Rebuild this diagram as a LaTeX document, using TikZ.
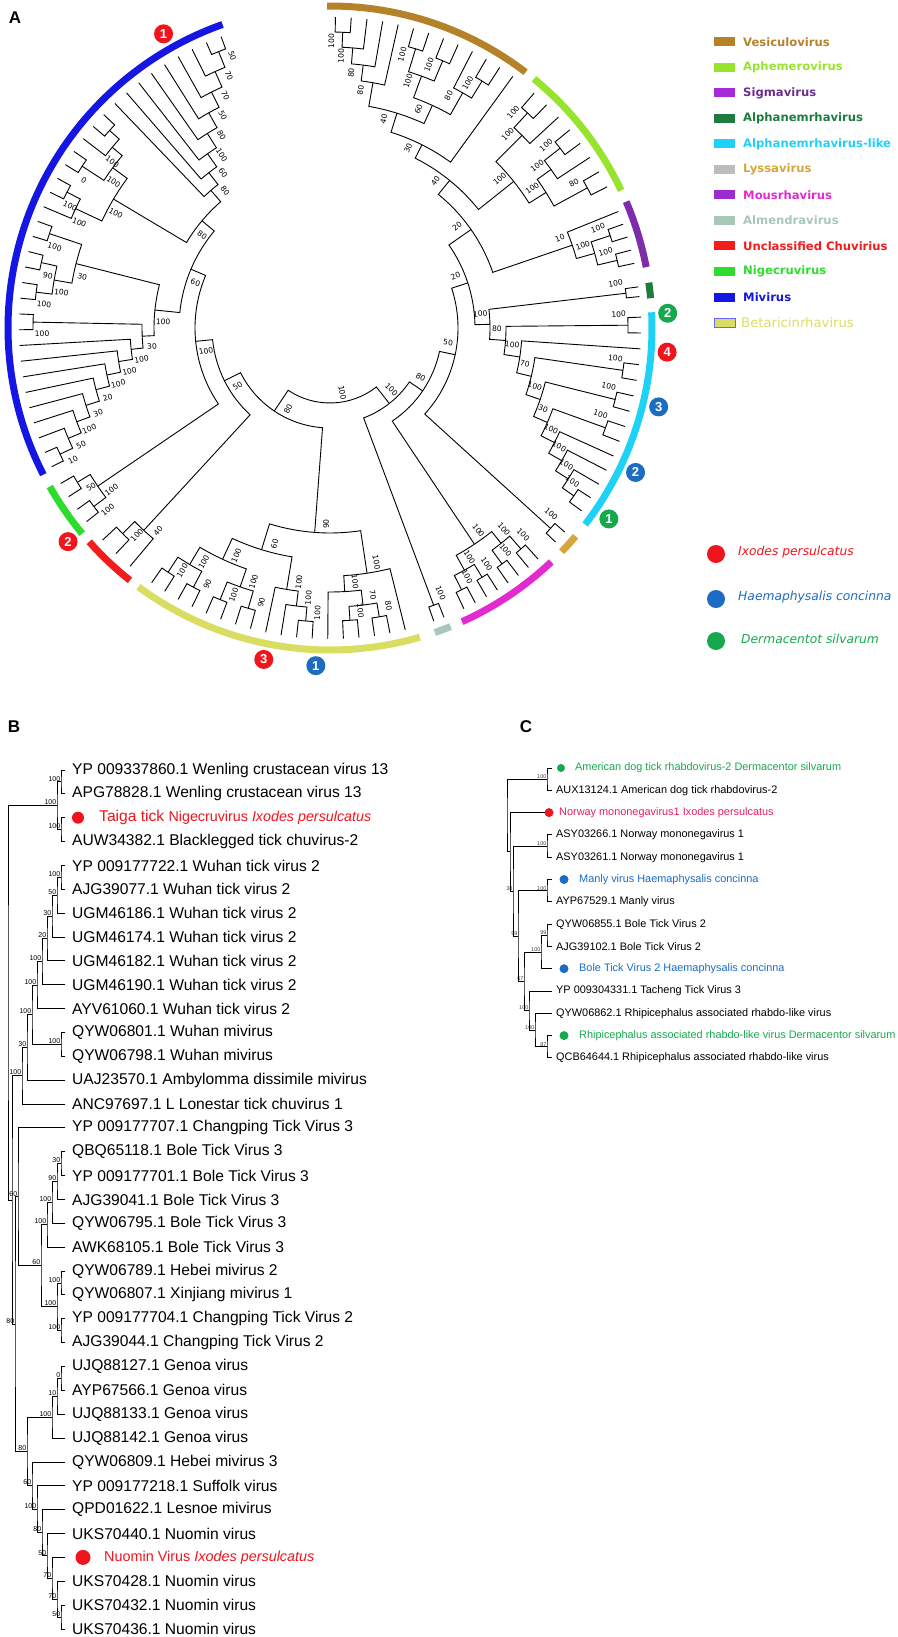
\documentclass[tikz,border=0pt]{standalone}
\usepackage{fontspec}
\setmainfont{Liberation Sans}
\newfontfamily\dejavu{DejaVu Sans}
\definecolor{vesic}{HTML}{B5822A}
\definecolor{aphem}{HTML}{98E32E}
\definecolor{sigarc}{HTML}{7D2DAA}
\definecolor{sigbox}{HTML}{A52BD8}
\definecolor{sigtxt}{HTML}{6B2D8F}
\definecolor{alphan}{HTML}{207B3E}
\definecolor{alphlike}{HTML}{1ED2F7}
\definecolor{lysarc}{HTML}{D6A63C}
\definecolor{lysbox}{HTML}{BDBDBD}
\definecolor{mousarc}{HTML}{E22AD0}
\definecolor{mousbox}{HTML}{9D2BD2}
\definecolor{almend}{HTML}{A9C7B9}
\definecolor{unclas}{HTML}{F21C1C}
\definecolor{nigec}{HTML}{2EDC2E}
\definecolor{mivir}{HTML}{1515E4}
\definecolor{betar}{HTML}{D9DE63}
\definecolor{ixod}{HTML}{F0141C}
\definecolor{haem}{HTML}{1C6CC2}
\definecolor{derm}{HTML}{16A84D}
\definecolor{norway}{HTML}{E61F63}

% circular tree: tips and joins stored as angle/radius
\def\tipr{311}
\def\labside{1}
\newcommand\tipset[4]{%
  \foreach \i in {1,...,#2}{%
    \pgfmathsetmacro\ta{#3+(\i-1)*((#4)-(#3))/(#2-1)}%
    \expandafter\xdef\csname ta#1\i\endcsname{\ta}%
    \expandafter\xdef\csname tr#1\i\endcsname{\tipr}%
  }}
\newcommand\joinA[5]{%
  \edef\aA{\csname ta#2\endcsname}\edef\rA{\csname tr#2\endcsname}%
  \edef\aB{\csname ta#3\endcsname}\edef\rB{\csname tr#3\endcsname}%
  \draw[branch] (\aA:\rA) -- (\aA:#4) arc[start angle=\aA, end angle=\aB, radius=#4] -- (\aB:\rB);%
  \pgfmathsetmacro\aN{(\aA+\aB)/2}%
  \expandafter\xdef\csname ta#1\endcsname{\aN}%
  \expandafter\xdef\csname tr#1\endcsname{#4}%
  \if\relax\detokenize{#5}\relax\else
    \pgfmathsetmacro\aL{\aN+\labside*650/#4}%
    \pgfmathsetmacro\rL{#4-9}%
    \pgfmathsetmacro\rot{(\aL < -90) ? (\aL+180) : (\aL)}%
    \node[bootA, rotate=\rot] (bs-#1) at (\aL:\rL) {#5};%
  \fi}
\newcommand\cladeband[3]{\draw[band, #1] (#2:322) arc[start angle=#2, end angle=#3, radius=322];}

% rectangular trees
\newcommand\leafR[3]{%
  \expandafter\xdef\csname ty#1\endcsname{#3}%
  \coordinate (#1) at (#2,#3);}
\newcommand\joinR[5]{%
  \edef\yA{\csname ty#2\endcsname}\edef\yB{\csname ty#3\endcsname}%
  \pgfmathsetmacro\yN{(\yA+\yB)/2}%
  \leafR{#1}{#4}{\yN}%
  \draw[branch] (#2) -| (#1) |- (#3);%
  \if\relax\detokenize{#5}\relax\else
    \node[boot] (bs-#1) at (#1) {#5};%
  \fi}

\begin{document}
\begin{tikzpicture}[x=1pt, y=-1pt,
  branch/.style={line width=0.9},
  band/.style={line width=7},
  bootA/.style={font=\dejavu\fontsize{7.6}{8}\selectfont, inner sep=0},
  bootB/.style={font=\fontsize{7}{8}\selectfont, inner sep=0.6, anchor=south east},
  bootC/.style={font=\fontsize{5.5}{6}\selectfont, inner sep=0.4, anchor=south east, text=black!75},
  boot/.style=bootB,
  tiptext/.style={anchor=west, inner sep=0, font=\fontsize{15.6}{18}\selectfont},
  ctext/.style={anchor=west, inner sep=0, font=\fontsize{10.9}{13}\selectfont},
  panel/.style={font=\bfseries\fontsize{17}{18}\selectfont, inner sep=0},
  mk/.style={circle, fill=#1, text=white, inner sep=0, minimum size=19, font=\bfseries\fontsize{13}{13}\selectfont},
  hdot/.style={circle, fill=#1, inner sep=0},
  legtext/.style={anchor=west, inner sep=0, font=\dejavu\bfseries\fontsize{11.6}{13}\selectfont},
  legbox/.style={rectangle, inner sep=0, minimum width=21, minimum height=9},
  hosttext/.style={anchor=west, inner sep=0, font=\dejavu\itshape\fontsize{12.3}{14}\selectfont}
]
\useasboundingbox (0,0) rectangle (897,1637);

% ---------- A ----------
\node[panel] (lblA) at (15,18) {A};
\begin{scope}[shift={(330,328)}, yscale=-1]
\cladeband{vesic}{90.5}{52.6}
\cladeband{aphem}{50.7}{25.3}
\cladeband{sigarc}{23.1}{10.9}
\cladeband{alphan}{8.1}{5.3}
\cladeband{alphlike}{2.8}{-37.6}
\cladeband{lysarc}{-40.3}{-44}
\cladeband{mousarc}{-46.6}{-65.8}
\cladeband{almend}{-68}{-71}
\cladeband{betar}{-73.8}{-126.5}
\cladeband{unclas}{-128.4}{-138.4}
\cladeband{nigec}{-140.3}{-150.5}
\cladeband{mivir}{-152.9}{-250.5}

\tipset{v}{13}{89}{54}
\tipset{p}{8}{49}{27}
\tipset{s}{5}{22}{12}
\tipset{n}{2}{7.6}{5.8}
\tipset{c}{14}{2}{-36}
\tipset{l}{2}{-41}{-43.5}
\tipset{m}{8}{-48}{-64.5}
\tipset{a}{2}{-68.5}{-70.5}
\tipset{b}{18}{-76}{-125}
\tipset{r}{3}{-130}{-137}
\tipset{g}{4}{-141.5}{-150}
\tipset{u}{34}{-153.5}{-249.5}

% Vesiculovirus, Aphemerovirus, Sigmavirus
\joinA{va}{v1}{v2}{296}{100}
\joinA{vb}{va}{v3}{281}{100}
\joinA{vc}{vb}{v4}{265}{80}
\joinA{vd}{vc}{v5}{249}{80}
\joinA{ve}{v6}{v7}{292}{100}
\joinA{vf}{v8}{v9}{290}{100}
\joinA{vg}{ve}{vf}{268}{100}
\joinA{vh}{v11}{v12}{290}{100}
\joinA{vi}{v10}{vh}{270}{80}
\joinA{vj}{vg}{vi}{245}{60}
\joinA{vk}{vd}{vj}{225}{40}
\joinA{vl}{vk}{v13}{205}{30}
\joinA{pa}{p1}{p2}{292}{100}
\joinA{pb}{pa}{p3}{272}{100}
\joinA{pc}{p4}{p5}{292}{100}
\joinA{pd}{pc}{p6}{272}{100}
\joinA{pe}{p7}{p8}{293}{80}
\joinA{pf}{pd}{pe}{255}{100}
\joinA{pg}{pb}{pf}{235}{100}
\joinA{vp}{vl}{pg}{190}{40}
\joinA{sa}{s2}{s3}{295}{100}
\joinA{sb}{s4}{s5}{295}{100}
\joinA{sc}{sa}{sb}{275}{100}
\joinA{sd}{s1}{sc}{256}{10}
\joinA{vs}{vp}{sd}{172}{20}
% Alphanemrhavirus and -like
\joinA{na}{n1}{n2}{298}{100}
\joinA{ca}{c1}{c2}{298}{100}
\joinA{cb}{c4}{c5}{296}{100}
\joinA{cc}{c6}{c7}{294}{100}
\joinA{cd}{c8}{c9}{293}{100}
\joinA{ce}{c13}{c14}{296}{100}
\joinA{cf}{c12}{ce}{282}{100}
\joinA{cg}{c11}{cf}{267}{100}
\joinA{ch}{c10}{cg}{252}{100}
\joinA{ci}{cd}{ch}{237}{30}
\joinA{cj}{cc}{ci}{222}{100}
\joinA{ck}{cb}{cj}{207}{70}
\joinA{cl}{c3}{ck}{192}{100}
\joinA{cm}{ca}{cl}{176}{80}
\joinA{cn}{na}{cm}{160}{100}
\joinA{rt}{vs}{cn}{145}{20}
% Lyssavirus, Mousrhavirus, Almendravirus
\joinA{la}{l1}{l2}{298}{100}
\joinA{ma}{m1}{m2}{292}{100}
\joinA{mb}{m3}{m4}{292}{100}
\joinA{mc}{ma}{mb}{275}{100}
\joinA{md}{m5}{m6}{292}{100}
\joinA{me}{m7}{m8}{293}{100}
\joinA{mf}{md}{me}{277}{100}
\joinA{mg}{mc}{mf}{260}{100}
\joinA{aa}{a1}{a2}{296}{100}
\joinA{xa}{rt}{la}{128}{50}
\joinA{xb}{xa}{mg}{112}{80}
\joinA{xc}{xb}{aa}{96}{100}
% Betaricinrhavirus
\joinA{ba}{b2}{b3}{293}{80}
\joinA{bb}{b4}{b5}{293}{100}
\joinA{bc}{ba}{bb}{279}{70}
\joinA{bd}{bc}{b6}{264}{100}
\joinA{be}{b1}{bd}{248}{100}
\joinA{bf}{b7}{b8}{294}{100}
\joinA{bg}{bf}{b9}{280}{100}
\joinA{bh}{bg}{b10}{265}{100}
\joinA{bi}{b11}{b12}{292}{90}
\joinA{bj}{b13}{b14}{293}{100}
\joinA{bk}{bi}{bj}{274}{100}
\joinA{bl}{b15}{b16}{293}{90}
\joinA{bm}{b17}{b18}{293}{100}
\joinA{bn}{bl}{bm}{275}{100}
\joinA{bo}{bk}{bn}{255}{100}
\joinA{bp}{bh}{bo}{232}{60}
\joinA{bq}{be}{bp}{205}{90}
% Unclassified, Nigecruvirus
\joinA{ra}{r2}{r3}{292}{100}
\joinA{rb}{r1}{ra}{275}{40}
\joinA{ga}{g1}{g2}{296}{100}
\joinA{gb}{g3}{g4}{296}{50}
\joinA{gc}{ga}{gb}{281}{100}
% Mivirus
\joinA{wa}{u1}{u2}{298}{10}
\joinA{wb}{wa}{u3}{284}{50}
\joinA{wc}{wb}{u4}{270}{100}
\joinA{wd}{wc}{u5}{256}{30}
\joinA{we}{wd}{u6}{242}{20}
\joinA{wf}{we}{u7}{228}{100}
\joinA{wg}{wf}{u8}{214}{100}
\joinA{wh}{wg}{u9}{200}{100}
\joinA{wi}{u10}{u11}{297}{100}
\joinA{wj}{wh}{wi}{188}{30}
\joinA{wk}{u12}{u13}{296}{100}
\joinA{wl}{u14}{u15}{296}{90}
\joinA{wm}{wk}{wl}{280}{100}
\joinA{wn}{u16}{u17}{296}{100}
\joinA{wo}{wm}{wn}{262}{30}
\joinA{wp}{wj}{wo}{176}{100}
\joinA{ui}{u24}{u25}{296}{}
\joinA{uj}{u23}{ui}{283}{100}
\joinA{uk}{u21}{u22}{296}{0}
\joinA{ul}{uk}{uj}{270}{100}
\joinA{um}{u19}{u20}{296}{100}
\joinA{un}{u18}{um}{281}{100}
\joinA{uo}{ul}{un}{252}{100}
\def\labside{-1}
\joinA{ua}{u33}{u34}{298}{50}
\joinA{ub}{u32}{ua}{281}{70}
\joinA{uc}{u31}{ub}{264}{70}
\joinA{ud}{u30}{uc}{247}{50}
\joinA{ue}{u29}{ud}{230}{80}
\joinA{uf}{u28}{ue}{213}{100}
\joinA{ug}{u27}{uf}{197}{60}
\joinA{uh}{u26}{ug}{182}{80}
\def\labside{1}
\joinA{up}{uo}{uh}{167}{80}
\joinA{wq}{wp}{up}{151}{60}
% backbone
\joinA{gu}{gc}{wq}{135}{100}
\joinA{rg}{rb}{gu}{118}{50}
\joinA{lf}{rg}{bq}{100}{80}
\joinA{root}{lf}{xc}{75}{100}

% tick markers
\node[mk=ixod] (mkI1) at (-240.5:338) {1};
\node[mk=ixod] (mkI2) at (-140.8:338) {2};
\node[mk=ixod] (mkI3) at (-101.3:338) {3};
\node[mk=ixod] (mkI4) at (-4.1:338) {4};
\node[mk=haem] (mkH1) at (-92.4:338) {1};
\node[mk=haem] (mkH2) at (-25.3:338) {2};
\node[mk=haem] (mkH3) at (-13.5:338) {3};
\node[mk=derm] (mkD1) at (-34.4:338) {1};
\node[mk=derm] (mkD2) at (2.5:338) {2};
\end{scope}

% legend
\foreach \i/\bx/\tx/\nm in {1/vesic/vesic/Vesiculovirus, 2/aphem/aphem/Aphemerovirus,
    3/sigbox/sigtxt/Sigmavirus, 4/alphan/alphan/Alphanemrhavirus,
    5/alphlike/alphlike/Alphanemrhavirus-like, 6/lysbox/lysarc/Lyssavirus,
    7/mousbox/mousarc/Mousrhavirus, 8/almend/almend/Almendravirus,
    9/unclas/unclas/Unclassified Chuvirius, 10/nigec/nigec/Nigecruvirus,
    11/mivir/mivir/Mivirus}{
  \pgfmathsetmacro\ly{42+(\i-1)*25.5}
  \node[legbox, fill=\bx] (lgb\i) at (724.5,\ly) {};
  \node[legtext, text=\tx] (lgt\i) at (743,\ly) {\nm};
}
\node[legbox, fill=betar, draw=blue!60, line width=0.6] (lgb12) at (724.5,322.5) {};
\node[anchor=west, inner sep=0, text=betar, font=\dejavu\fontsize{13.2}{15}\selectfont] (lgt12) at (741,322.5) {Betaricinrhavirus};
\node[hdot=ixod, minimum size=18] (hs1) at (716,554) {};
\node[hosttext, text=ixod] (ht1) at (738,552) {Ixodes persulcatus};
\node[hdot=haem, minimum size=18] (hs2) at (716,599) {};
\node[hosttext, text=haem] (ht2) at (738,597) {Haemaphysalis concinna};
\node[hdot=derm, minimum size=18] (hs3) at (716,641) {};
\node[hosttext, text=derm] (ht3) at (741,639) {Dermacentot silvarum};

% ---------- B ----------
\node[panel] (lblB) at (14,727) {B};
\foreach \i in {1,...,37}{
  \pgfmathsetmacro\yy{770+(\i-1)*23.86}
  \leafR{B\i}{65}{\yy}
}
\foreach \i/\txt in {1/YP 009337860.1 Wenling crustacean virus 13,
    2/APG78828.1 Wenling crustacean virus 13, 4/AUW34382.1 Blacklegged tick chuvirus-2,
    5/YP 009177722.1 Wuhan tick virus 2, 6/AJG39077.1 Wuhan tick virus 2,
    7/UGM46186.1 Wuhan tick virus 2, 8/UGM46174.1 Wuhan tick virus 2,
    9/UGM46182.1 Wuhan tick virus 2, 10/UGM46190.1 Wuhan tick virus 2,
    11/AYV61060.1 Wuhan tick virus 2, 12/QYW06801.1 Wuhan mivirus,
    13/QYW06798.1 Wuhan mivirus, 14/UAJ23570.1 Ambylomma dissimile mivirus,
    15/ANC97697.1 L Lonestar tick chuvirus 1, 16/YP 009177707.1 Changping Tick Virus 3,
    17/QBQ65118.1 Bole Tick Virus 3, 18/YP 009177701.1 Bole Tick Virus 3,
    19/AJG39041.1 Bole Tick Virus 3, 20/QYW06795.1 Bole Tick Virus 3,
    21/AWK68105.1 Bole Tick Virus 3, 22/QYW06789.1 Hebei mivirus 2,
    23/QYW06807.1 Xinjiang mivirus 1, 24/YP 009177704.1 Changping Tick Virus 2,
    25/AJG39044.1 Changping Tick Virus 2, 26/UJQ88127.1 Genoa virus,
    27/AYP67566.1 Genoa virus, 28/UJQ88133.1 Genoa virus, 29/UJQ88142.1 Genoa virus,
    30/QYW06809.1 Hebei mivirus 3, 31/YP 009177218.1 Suffolk virus,
    32/QPD01622.1 Lesnoe mivirus, 33/UKS70440.1 Nuomin virus,
    35/UKS70428.1 Nuomin virus, 36/UKS70432.1 Nuomin virus, 37/UKS70436.1 Nuomin virus}{
  \pgfmathsetmacro\yy{770+(\i-1)*23.86}
  \node[tiptext] (lbB\i) at (72,\yy) {\txt};
}
\node[hdot=ixod, minimum size=12] (dB3) at (78,817.7) {};
\node[tiptext, text=ixod] (lbB3) at (99,817.7) {Taiga tick {\fontsize{14.3}{16}\selectfont Nigecruvirus \itshape Ixodes persulcatus}};
\node[hdot=ixod, minimum size=15] (dB34) at (83,1557.4) {};
\node[tiptext, text=ixod, font=\fontsize{14.4}{16}\selectfont] (lbB34) at (104,1557.4) {Nuomin Virus \textit{Ixodes persulcatus}};

\tikzset{boot/.style=bootB}
\joinR{Ba}{B1}{B2}{61}{100}
\joinR{Bb}{B3}{B4}{61}{100}
\joinR{Bc}{Ba}{Bb}{57}{100}
\joinR{Bd}{B5}{B6}{61}{100}
\joinR{Be}{Bd}{B7}{57}{50}
\joinR{Bf}{Be}{B8}{52}{30}
\joinR{Bg}{Bf}{B9}{47}{20}
\joinR{Bh}{Bg}{B10}{42}{100}
\joinR{Bi}{Bh}{B11}{37}{100}
\joinR{Bj}{B12}{B13}{61}{100}
\joinR{Bk}{Bi}{Bj}{32}{100}
\joinR{Bl}{Bk}{B14}{27}{30}
\joinR{Bm}{Bl}{B15}{22}{100}
\joinR{Bn}{B17}{B18}{61}{30}
\joinR{Bo}{Bn}{B19}{57}{90}
\joinR{Bp}{Bo}{B20}{52}{100}
\joinR{Bq}{Bp}{B21}{47}{100}
\joinR{Br}{B22}{B23}{61}{100}
\joinR{Bs}{B24}{B25}{61}{100}
\joinR{Bt}{Br}{Bs}{57}{100}
\joinR{Bu}{Bq}{Bt}{41}{60}
\joinR{Bv}{B16}{Bu}{18}{60}
\joinR{Bw}{B26}{B27}{61}{0}
\joinR{Bx}{Bw}{B28}{57}{10}
\joinR{By}{Bx}{B29}{52}{100}
\joinR{Bz}{B36}{B37}{61}{50}
\joinR{BA}{B35}{Bz}{57}{70}
\joinR{BB}{B34}{BA}{52}{70}
\joinR{BC}{B33}{BB}{47}{50}
\joinR{BD}{B32}{BC}{42}{80}
\joinR{BE}{B31}{BD}{37}{100}
\joinR{BF}{B30}{BE}{32}{60}
\joinR{BG}{By}{BF}{27}{80}
\joinR{BH}{Bv}{BG}{15}{80}
\joinR{BI}{Bm}{BH}{12}{}
\joinR{BJ}{Bc}{BI}{8}{}

% ---------- C ----------
\node[panel] (lblC) at (526,727) {C};
\foreach \i in {1,...,14}{
  \pgfmathsetmacro\yy{768+(\i-1)*22.3}
  \leafR{C\i}{552}{\yy}
}
\leafR{C3}{545}{812.6}
\foreach \i/\txt in {2/AUX13124.1 American dog tick rhabdovirus-2,
    4/ASY03266.1 Norway mononegavirus 1, 5/ASY03261.1 Norway mononegavirus 1,
    7/AYP67529.1 Manly virus, 8/QYW06855.1 Bole Tick Virus 2,
    9/AJG39102.1 Bole Tick Virus 2, 11/YP 009304331.1 Tacheng Tick Virus 3,
    12/QYW06862.1 Rhipicephalus associated rhabdo-like virus,
    14/QCB64644.1 Rhipicephalus associated rhabdo-like virus}{
  \pgfmathsetmacro\yy{768+(\i-1)*22.3}
  \node[ctext] (lbC\i) at (556,\yy) {\txt};
}
\node[hdot=derm, minimum size=8] (dC1) at (561,768) {};
\node[ctext, text=derm] (lbC1) at (575,768) {American dog tick rhabdovirus-2 Dermacentor silvarum};
\node[hdot=ixod, minimum size=9] (dC3) at (549,812.6) {};
\node[ctext, text=norway] (lbC3) at (559,812.6) {Norway mononegavirus1 Ixodes persulcatus};
\node[hdot=haem, minimum size=9] (dC6) at (564,879.5) {};
\node[ctext, text=haem] (lbC6) at (579,879.5) {Manly virus Haemaphysalis concinna};
\node[hdot=haem, minimum size=9] (dC10) at (564,968.7) {};
\node[ctext, text=haem] (lbC10) at (579,968.7) {Bole Tick Virus 2 Haemaphysalis concinna};
\node[hdot=derm, minimum size=9] (dC13) at (564,1035.6) {};
\node[ctext, text=derm] (lbC13) at (579,1035.6) {Rhipicephalus associated rhabdo-like virus Dermacentor silvarum};

\tikzset{boot/.style=bootC}
\joinR{Ca}{C1}{C2}{547}{100}
\joinR{Cb}{C4}{C5}{547}{100}
\joinR{Cc}{C6}{C7}{547}{100}
\joinR{Cd}{C8}{C9}{547}{99}
\joinR{Ce}{Cd}{C10}{541}{100}
\joinR{Cf}{C13}{C14}{547}{87}
\joinR{Cg}{C12}{Cf}{535}{100}
\joinR{Ch}{C11}{Cg}{529}{100}
\joinR{Ci}{Ce}{Ch}{524}{67}
\joinR{Cj}{Cc}{Ci}{518}{99}
\joinR{Ck}{Cb}{Cj}{513}{38}
\joinR{Cl}{C3}{Ck}{510}{}
\joinR{Cm}{Ca}{Cl}{507}{}
\end{tikzpicture}
\end{document}
